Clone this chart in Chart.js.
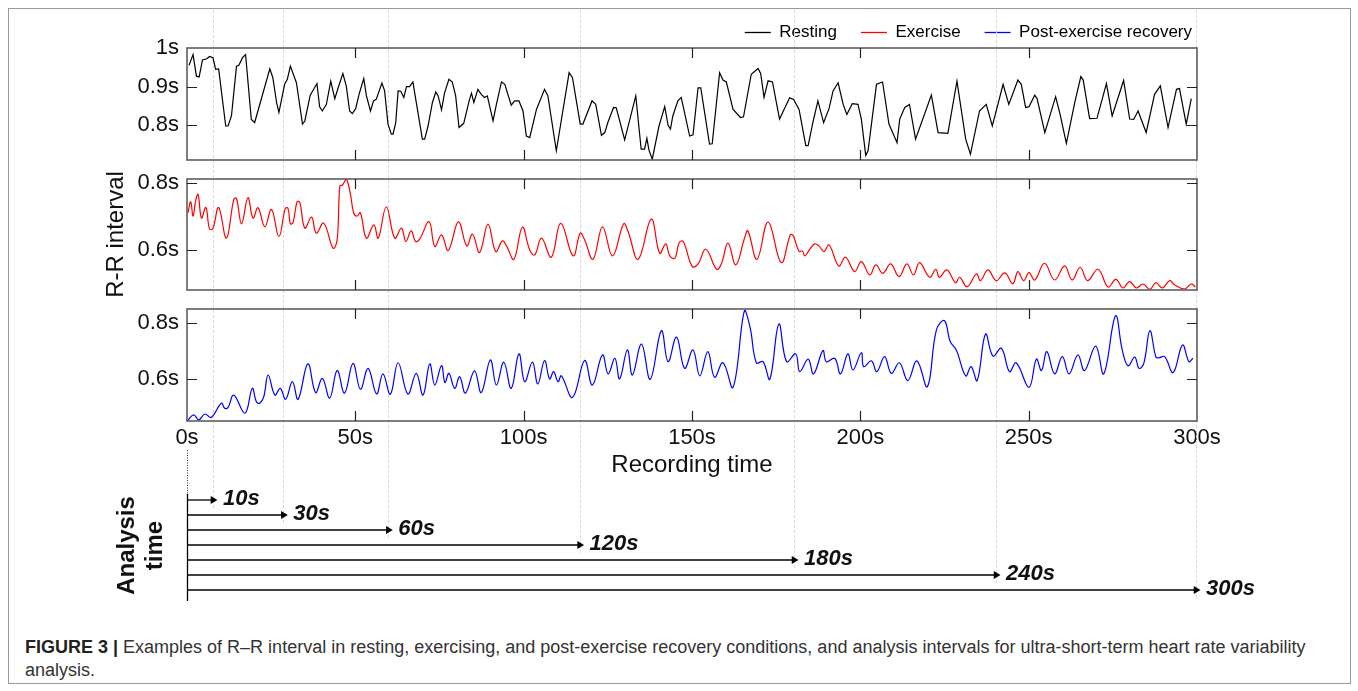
<!DOCTYPE html>
<html>
<head>
<meta charset="utf-8">
<script src="https://cdn.jsdelivr.net/npm/chart.js@4"></script>
<style>
  body { margin: 0; background: #fff; }
  #page { position: relative; width: 1358px; height: 691px; overflow: hidden; background: #fff; }
  #border { position: absolute; left: 8px; top: 8px; width: 1341px; height: 674px; border: 1px solid #9a9a9a; }
  canvas { position: absolute; left: 0; }
  #caption { position: absolute; left: 25px; top: 636px; width: 1310px; color: #333;
             font-family: 'Liberation Sans', Arial, sans-serif; font-size: 18px; line-height: 23px; white-space: nowrap; }
  #caption b { color: #222; }
</style>
</head>
<body>
<div id="page">
  <div id="border"></div>
  <canvas id="rest" width="1358" height="170" style="top:0px"></canvas>
  <canvas id="exer" width="1358" height="130" style="top:170px"></canvas>
  <canvas id="rec" width="1358" height="180" style="top:300px"></canvas>
  <canvas id="arrows" width="1358" height="140" style="top:480px"></canvas>
  <div id="caption"><b>FIGURE 3 |</b> Examples of R–R interval in resting, exercising, and post-exercise recovery conditions, and analysis intervals for ultra-short-term heart rate variability<br>analysis.</div>
</div>
<script>
const seriesNames = ['Resting', 'Exercise', 'Post-exercise recovery'];
const seriesColors = ['#000000', '#ff0000', '#0000ff'];
const xTickVals = [0, 50, 100, 150, 200, 250, 300];
const restTicks = [0.8, 0.9, 1.0];
const exerTicks = [0.6, 0.8];
const recTicks = [0.6, 0.8];
const analysisLabels = ['10s', '30s', '60s', '120s', '180s', '240s', '300s'];
const analysisEnd = [7.7, 28.6, 59.8, 116.6, 180.3, 240.3, 299.7];

// resting R-R (s)
const restTime = [
  0.6, 1.8, 2.8, 3.6, 4.6, 5.9, 6.7, 7.7, 8.5, 9.4,
  11.5, 12.2, 13.2, 14.7, 15.4, 16.5, 17.4, 19.1, 20.1, 24.6,
  25.5, 26.6, 27.3, 29.0, 29.8, 30.7, 32.5, 34.3, 35.0, 36.6,
  38.6, 39.4, 40.2, 41.4, 42.7, 43.9, 44.9, 46.3, 47.3, 48.3,
  49.1, 50.1, 51.1, 52.5, 53.3, 54.5, 55.4, 56.2, 57.9, 58.7,
  59.7, 60.7, 61.2, 62.0, 62.7, 63.5, 64.4, 65.2, 66.1, 67.1,
  68.1, 69.9, 70.6, 71.6, 72.9, 73.9, 74.6, 75.6, 76.5, 77.8,
  78.8, 79.8, 80.8, 82.2, 83.8, 84.5, 85.2, 86.4, 87.4, 88.4,
  89.2, 90.9, 91.9, 93.4, 94.4, 96.3, 97.3, 98.6, 99.8, 100.8,
  101.8, 103.8, 106.2, 107.2, 109.7, 113.5, 114.5, 116.8, 117.6, 120.3,
  121.4, 123.1, 124.1, 125.0, 126.7, 127.5, 130.0, 133.3, 134.9, 135.9,
  136.6, 137.2, 138.2, 140.2, 141.9, 142.9, 143.6, 144.3, 145.8, 146.8,
  149.3, 150.3, 151.8, 152.6, 155.2, 156.0, 158.2, 159.2, 160.2, 162.2,
  164.4, 165.3, 167.6, 169.6, 170.4, 171.4, 172.6, 173.9, 176.0, 179.0,
  180.2, 181.8, 183.8, 184.5, 186.0, 187.4, 189.1, 190.7, 191.9, 193.4,
  194.9, 196.0, 197.6, 199.3, 200.3, 201.6, 202.3, 204.8, 206.6, 208.5,
  210.9, 211.7, 213.2, 214.6, 216.4, 221.1, 223.1, 226.0, 228.7, 231.3,
  232.7, 235.4, 237.4, 239.2, 242.4, 244.1, 246.8, 247.8, 249.1, 250.1,
  251.8, 252.5, 254.8, 258.0, 259.2, 261.2, 263.7, 265.5, 266.2, 268.1,
  270.3, 273.1, 274.8, 278.2, 280.0, 281.2, 282.5, 284.9, 287.4, 289.1,
  291.4, 293.9, 294.8, 296.8, 298.3
];
const restRR = [
  0.955, 0.983, 0.927, 0.925, 0.969, 0.972, 0.978, 0.975, 0.945, 0.946,
  0.798, 0.798, 0.824, 0.953, 0.955, 0.975, 0.983, 0.815, 0.807, 0.946,
  0.923, 0.859, 0.833, 0.906, 0.919, 0.953, 0.910, 0.803, 0.811, 0.878,
  0.908, 0.848, 0.837, 0.854, 0.914, 0.869, 0.897, 0.934, 0.902, 0.837,
  0.830, 0.843, 0.880, 0.921, 0.876, 0.837, 0.863, 0.867, 0.909, 0.889,
  0.803, 0.777, 0.777, 0.807, 0.889, 0.888, 0.872, 0.900, 0.900, 0.912,
  0.859, 0.764, 0.764, 0.798, 0.859, 0.886, 0.876, 0.840, 0.884, 0.919,
  0.912, 0.876, 0.794, 0.805, 0.863, 0.883, 0.859, 0.893, 0.880, 0.872,
  0.876, 0.811, 0.854, 0.912, 0.906, 0.852, 0.863, 0.863, 0.837, 0.772,
  0.768, 0.841, 0.893, 0.876, 0.734, 0.936, 0.923, 0.803, 0.803, 0.863,
  0.854, 0.774, 0.781, 0.807, 0.846, 0.845, 0.762, 0.876, 0.738, 0.738,
  0.766, 0.736, 0.712, 0.798, 0.848, 0.800, 0.790, 0.824, 0.863, 0.872,
  0.772, 0.775, 0.897, 0.897, 0.751, 0.752, 0.936, 0.917, 0.912, 0.841,
  0.820, 0.822, 0.932, 0.947, 0.934, 0.872, 0.915, 0.912, 0.816, 0.871,
  0.867, 0.841, 0.747, 0.747, 0.811, 0.863, 0.807, 0.843, 0.889, 0.910,
  0.854, 0.828, 0.856, 0.854, 0.816, 0.722, 0.734, 0.906, 0.912, 0.803,
  0.755, 0.816, 0.846, 0.854, 0.764, 0.878, 0.781, 0.779, 0.914, 0.764,
  0.725, 0.837, 0.854, 0.798, 0.906, 0.854, 0.917, 0.906, 0.846, 0.848,
  0.878, 0.869, 0.781, 0.874, 0.833, 0.753, 0.859, 0.926, 0.917, 0.817,
  0.818, 0.908, 0.824, 0.916, 0.816, 0.815, 0.837, 0.781, 0.880, 0.902,
  0.794, 0.893, 0.895, 0.803, 0.869
];

// exercise R-R (s)
const exerTime = [
  0.3, 1.1, 1.8, 2.6, 3.3, 4.3, 5.6, 6.7, 7.7, 9.4,
  11.7, 13.9, 14.7, 16.2, 18.1, 19.6, 21.1, 23.1, 25.1, 27.3,
  29.2, 30.0, 30.7, 31.5, 32.7, 33.5, 35.0, 37.0, 38.4, 40.6,
  43.4, 44.6, 45.4, 46.2, 47.3, 48.5, 49.5, 50.5, 51.5, 53.3,
  55.5, 56.8, 59.2, 61.7, 63.7, 65.0, 66.6, 67.9, 69.1, 71.9,
  73.6, 75.6, 77.6, 80.6, 83.1, 84.8, 86.9, 89.4, 91.7, 93.7,
  94.9, 97.1, 99.6, 101.8, 103.3, 105.3, 108.2, 111.0, 114.7, 116.8,
  118.1, 120.6, 123.4, 126.4, 129.7, 131.0, 134.0, 137.9, 140.4, 142.2,
  143.4, 144.9, 146.2, 147.4, 150.1, 151.8, 154.1, 157.3, 158.7, 160.7,
  163.0, 165.6, 166.6, 169.3, 172.6, 176.5, 179.2, 180.0, 181.8, 182.8,
  183.5, 185.0, 186.4, 187.7, 189.2, 190.7, 193.6, 195.6, 198.3, 200.3,
  202.8, 204.6, 206.7, 209.0, 211.5, 213.8, 215.8, 217.6, 220.6, 222.4,
  223.5, 225.7, 228.3, 229.5, 231.7, 234.5, 235.7, 237.9, 240.4, 242.9,
  245.3, 246.8, 248.5, 250.1, 251.8, 254.7, 257.7, 260.7, 262.9, 265.3,
  267.5, 270.6, 273.6, 275.9, 278.0, 280.0, 282.0, 284.0, 286.0, 287.8,
  289.7, 291.9, 293.4, 296.3, 298.3, 299.5
];
const exerRR = [
  0.712, 0.745, 0.702, 0.750, 0.767, 0.696, 0.728, 0.663, 0.665, 0.728,
  0.636, 0.752, 0.755, 0.679, 0.757, 0.696, 0.727, 0.670, 0.722, 0.641,
  0.725, 0.725, 0.679, 0.683, 0.745, 0.743, 0.666, 0.699, 0.651, 0.681,
  0.606, 0.631, 0.792, 0.795, 0.812, 0.770, 0.712, 0.702, 0.712, 0.636,
  0.676, 0.636, 0.730, 0.636, 0.666, 0.626, 0.658, 0.626, 0.633, 0.685,
  0.611, 0.646, 0.599, 0.685, 0.613, 0.648, 0.593, 0.678, 0.596, 0.628,
  0.613, 0.573, 0.669, 0.601, 0.586, 0.636, 0.579, 0.680, 0.583, 0.651,
  0.631, 0.573, 0.670, 0.583, 0.679, 0.656, 0.573, 0.693, 0.591, 0.619,
  0.583, 0.576, 0.623, 0.626, 0.551, 0.559, 0.603, 0.543, 0.559, 0.621,
  0.556, 0.636, 0.658, 0.573, 0.684, 0.563, 0.646, 0.645, 0.596, 0.598,
  0.583, 0.603, 0.619, 0.613, 0.596, 0.616, 0.553, 0.579, 0.536, 0.566,
  0.526, 0.556, 0.531, 0.559, 0.521, 0.559, 0.526, 0.563, 0.519, 0.543,
  0.519, 0.541, 0.503, 0.519, 0.491, 0.529, 0.509, 0.541, 0.509, 0.532,
  0.500, 0.536, 0.509, 0.533, 0.511, 0.561, 0.511, 0.553, 0.511, 0.549,
  0.509, 0.543, 0.490, 0.513, 0.487, 0.506, 0.487, 0.499, 0.483, 0.503,
  0.487, 0.509, 0.496, 0.484, 0.499, 0.490
];

// post-exercise recovery R-R (s)
const recTime = [
  0.3, 2.0, 3.5, 5.3, 7.2, 10.2, 11.2, 12.2, 13.9, 17.2,
  19.4, 20.6, 21.6, 22.8, 24.1, 26.1, 27.7, 29.3, 31.3, 33.0,
  35.9, 38.2, 40.2, 42.4, 44.6, 46.8, 49.3, 51.5, 53.8, 56.3,
  58.2, 60.4, 62.7, 65.6, 68.1, 70.1, 72.1, 73.6, 75.6, 76.6,
  77.8, 79.5, 81.0, 82.7, 85.4, 87.4, 90.1, 91.9, 94.1, 96.3,
  98.6, 100.3, 102.6, 104.2, 106.2, 107.7, 108.9, 110.2, 111.2, 114.5,
  118.1, 120.4, 123.4, 125.1, 127.1, 128.5, 130.8, 132.3, 135.0, 137.6,
  140.9, 142.9, 145.4, 147.8, 150.3, 152.3, 154.7, 156.7, 159.2, 162.2,
  165.6, 167.3, 169.1, 171.1, 173.1, 175.8, 178.1, 180.8, 182.0, 184.5,
  186.1, 188.9, 189.9, 192.4, 194.1, 196.3, 197.8, 200.3, 201.0, 203.3,
  204.9, 207.2, 209.2, 211.6, 214.1, 216.8, 219.9, 222.6, 225.0, 226.7,
  228.5, 231.3, 232.9, 234.7, 237.2, 239.4, 241.9, 244.3, 246.3, 250.1,
  252.3, 253.8, 255.4, 257.7, 260.0, 262.0, 264.6, 266.6, 269.9, 272.3,
  275.8, 277.8, 279.5, 281.5, 282.8, 284.2, 286.0, 287.8, 288.7, 290.4,
  292.9, 295.7, 297.6, 298.8
];
const recRR = [
  0.452, 0.470, 0.452, 0.473, 0.461, 0.512, 0.494, 0.497, 0.541, 0.476,
  0.565, 0.517, 0.512, 0.535, 0.613, 0.541, 0.565, 0.526, 0.589, 0.526,
  0.653, 0.550, 0.601, 0.530, 0.629, 0.548, 0.655, 0.562, 0.637, 0.545,
  0.617, 0.544, 0.657, 0.545, 0.619, 0.541, 0.653, 0.577, 0.647, 0.586,
  0.619, 0.565, 0.607, 0.548, 0.628, 0.550, 0.667, 0.577, 0.659, 0.565,
  0.689, 0.589, 0.659, 0.581, 0.665, 0.599, 0.625, 0.589, 0.610, 0.533,
  0.665, 0.577, 0.685, 0.617, 0.673, 0.599, 0.703, 0.613, 0.724, 0.598,
  0.772, 0.661, 0.749, 0.637, 0.703, 0.610, 0.697, 0.605, 0.657, 0.569,
  0.845, 0.781, 0.657, 0.661, 0.598, 0.796, 0.661, 0.689, 0.625, 0.670,
  0.617, 0.701, 0.661, 0.673, 0.617, 0.689, 0.631, 0.693, 0.643, 0.664,
  0.625, 0.679, 0.619, 0.657, 0.593, 0.664, 0.571, 0.775, 0.808, 0.733,
  0.703, 0.610, 0.643, 0.593, 0.760, 0.681, 0.709, 0.625, 0.657, 0.569,
  0.670, 0.629, 0.697, 0.617, 0.679, 0.617, 0.685, 0.629, 0.717, 0.617,
  0.825, 0.703, 0.646, 0.677, 0.637, 0.655, 0.772, 0.677, 0.675, 0.679,
  0.622, 0.721, 0.661, 0.673
];

const FONT = "'Liberation Sans', Arial, sans-serif";

function pts(ts, vs) {
  return ts.map((t, i) => ({x: t, y: vs[i]}));
}

function yAxis(min, max, ticks, title) {
  return {
    min: min, max: max,
    afterBuildTicks: a => { a.ticks = ticks.map(v => ({value: v})); },
    afterFit: a => { a.width = 85; a.paddingTop = 0; a.paddingBottom = 0; },
    grid: {display: false, drawTicks: false},
    border: {display: false},
    ticks: {color: '#111', padding: 8, font: {family: FONT, size: 22}, callback: v => +v.toFixed(2) + 's'},
    title: title ? {display: true, text: title, color: '#111', font: {family: FONT, size: 24}, padding: 0} : {display: false}
  };
}

const hiddenX = {type: 'linear', min: 0, max: 300, display: false};

// guide lines, frame with inward ticks, arrows decoration
const deco = {
  id: 'deco',
  beforeDatasetsDraw(chart, args, o) {
    const {ctx, scales} = chart;
    ctx.save();
    ctx.strokeStyle = '#d8d8d8';
    ctx.lineWidth = 1;
    ctx.setLineDash([3, 2]);
    analysisEnd.forEach((t, i) => {
      const px = Math.round(scales.x.getPixelForValue(t)) + 0.5;
      const y1 = o.arrows ? scales.y.getPixelForValue(i) + 8 : chart.height;
      ctx.beginPath();
      ctx.moveTo(px, o.top || 0);
      ctx.lineTo(px, y1);
      ctx.stroke();
    });
    ctx.restore();
  },
  afterDatasetsDraw(chart, args, o) {
    const {ctx, chartArea: a, scales} = chart;
    const x = scales.x, y = scales.y;
    ctx.save();
    if (o.frame) {
      ctx.strokeStyle = '#5e5e5e';
      ctx.lineWidth = 1.6;
      ctx.strokeRect(a.left, a.top, a.width, a.height);
      ctx.strokeStyle = '#222';
      ctx.lineWidth = 1.2;
      ctx.beginPath();
      xTickVals.slice(1, -1).forEach(v => {
        const px = Math.round(x.getPixelForValue(v)) + 0.5;
        ctx.moveTo(px, a.top); ctx.lineTo(px, a.top + 10);
        ctx.moveTo(px, a.bottom); ctx.lineTo(px, a.bottom - 10);
      });
      y.ticks.forEach(t => {
        const py = Math.round(y.getPixelForValue(t.value)) + 0.5;
        if (py <= a.top + 2) return;
        ctx.moveTo(a.left, py); ctx.lineTo(a.left + 10, py);
        ctx.moveTo(a.right, py); ctx.lineTo(a.right - 10, py);
      });
      ctx.stroke();
    }
    const x0 = Math.round(x.getPixelForValue(0)) + 0.5;
    if (o.dotFrom) {
      ctx.strokeStyle = '#333';
      ctx.lineWidth = 1;
      ctx.setLineDash([1, 1.5]);
      ctx.beginPath();
      ctx.moveTo(x0, a.bottom + o.dotFrom); ctx.lineTo(x0, chart.height);
      ctx.stroke();
    }
    if (o.arrows) {
      ctx.strokeStyle = '#333';
      ctx.lineWidth = 1;
      ctx.setLineDash([1, 1.5]);
      ctx.beginPath();
      ctx.moveTo(x0, 0); ctx.lineTo(x0, a.top + 4);
      ctx.stroke();
      ctx.setLineDash([]);
      ctx.strokeStyle = '#000';
      ctx.lineWidth = 1.3;
      ctx.beginPath();
      ctx.moveTo(x0, a.top + 4); ctx.lineTo(x0, a.bottom);
      ctx.stroke();
      ctx.fillStyle = '#111';
      ctx.font = 'italic bold 22px ' + FONT;
      ctx.textBaseline = 'middle';
      chart.data.datasets.forEach((d, i) => {
        const p = chart.getDatasetMeta(i).data[1];
        ctx.fillText(analysisLabels[i], p.x + 10, p.y - 1);
      });
    }
    ctx.restore();
  }
};

const common = {
  responsive: false,
  animation: false,
  events: [],
  plugins: {legend: {display: false}, tooltip: {enabled: false}}
};

// Resting
new Chart(document.getElementById('rest'), {
  type: 'line',
  data: {datasets: [{
    label: seriesNames[0], data: pts(restTime, restRR),
    borderColor: seriesColors[0], borderWidth: 1.2, pointRadius: 0, tension: 0
  }]},
  options: {
    ...common,
    layout: {padding: {left: 102, right: 142, top: 0, bottom: 10}},
    scales: {
      x: hiddenX,
      y: yAxis(0.71, 1.0, restTicks),
      yR: {position: 'right', display: true, ticks: {display: false}, grid: {display: false, drawTicks: false},
           border: {display: false}, afterFit: a => { a.width = 19; a.paddingTop = 0; a.paddingBottom = 0; }}
    },
    plugins: {
      tooltip: {enabled: false},
      legend: {
        display: true, position: 'top', align: 'end', maxHeight: 48,
        labels: {
          usePointStyle: true, pointStyleWidth: 26, padding: 24, color: '#111',
          font: {family: FONT, size: 17},
          generateLabels: () => seriesNames.map((n, i) => ({
            text: n, strokeStyle: seriesColors[i], fillStyle: seriesColors[i],
            lineWidth: 1.3, pointStyle: 'line', hidden: false, datasetIndex: i
          }))
        }
      },
      deco: {frame: true, top: 10}
    }
  },
  plugins: [deco]
});

// Exercise
new Chart(document.getElementById('exer'), {
  type: 'line',
  data: {datasets: [{
    label: seriesNames[1], data: pts(exerTime, exerRR),
    borderColor: seriesColors[1], borderWidth: 1.2, pointRadius: 0, tension: 0.4
  }]},
  options: {
    ...common,
    layout: {padding: {left: 102, right: 161, top: 9, bottom: 10}},
    scales: {x: hiddenX, y: yAxis(0.481, 0.813, exerTicks, 'R-R interval')},
    plugins: {...common.plugins, deco: {frame: true}}
  },
  plugins: [deco]
});

// Post-exercise recovery
new Chart(document.getElementById('rec'), {
  type: 'line',
  data: {datasets: [{
    label: seriesNames[2], data: pts(recTime, recRR),
    borderColor: seriesColors[2], borderWidth: 1.2, pointRadius: 0, tension: 0.4
  }]},
  options: {
    ...common,
    layout: {padding: {left: 102, right: 161, top: 9, bottom: 0}},
    scales: {
      x: {
        type: 'linear', min: 0, max: 300,
        afterBuildTicks: a => { a.ticks = xTickVals.map(v => ({value: v})); },
        afterFit: a => { a.height = 59; },
        grid: {display: false, drawTicks: false},
        border: {display: false},
        ticks: {color: '#111', padding: 4, maxRotation: 0, font: {family: FONT, size: 22}, callback: v => v + 's'},
        title: {display: true, text: 'Recording time', color: '#111', font: {family: FONT, size: 24}, padding: {top: 2, bottom: 0}}
      },
      y: yAxis(0.448, 0.85, recTicks)
    },
    plugins: {...common.plugins, deco: {frame: true, dotFrom: 29}}
  },
  plugins: [deco]
});

// Analysis time arrows
new Chart(document.getElementById('arrows'), {
  type: 'line',
  data: {datasets: analysisEnd.map((t, i) => ({
    label: analysisLabels[i],
    data: [{x: 0, y: i}, {x: t, y: i}],
    borderColor: '#000', borderWidth: 1.3,
    pointRadius: [0, 4.5], pointStyle: 'triangle', pointRotation: 90,
    pointBackgroundColor: '#000', pointBorderWidth: 0, clip: false
  }))},
  options: {
    ...common,
    layout: {padding: {left: 114, right: 161, top: 10, bottom: 19}},
    scales: {
      x: hiddenX,
      y: {
        min: -0.667, max: 6.733, reverse: true,
        ticks: {display: false},
        grid: {display: false, drawTicks: false},
        border: {display: false},
        afterFit: a => { a.width = 73; a.paddingTop = 0; a.paddingBottom = 0; },
        title: {display: true, text: ['Analysis', 'time'], color: '#111',
                font: {family: FONT, size: 24, weight: 'bold', lineHeight: 1.15}, padding: 0}
      }
    },
    plugins: {...common.plugins, deco: {arrows: true}}
  },
  plugins: [deco]
});
</script>
</body>
</html>
